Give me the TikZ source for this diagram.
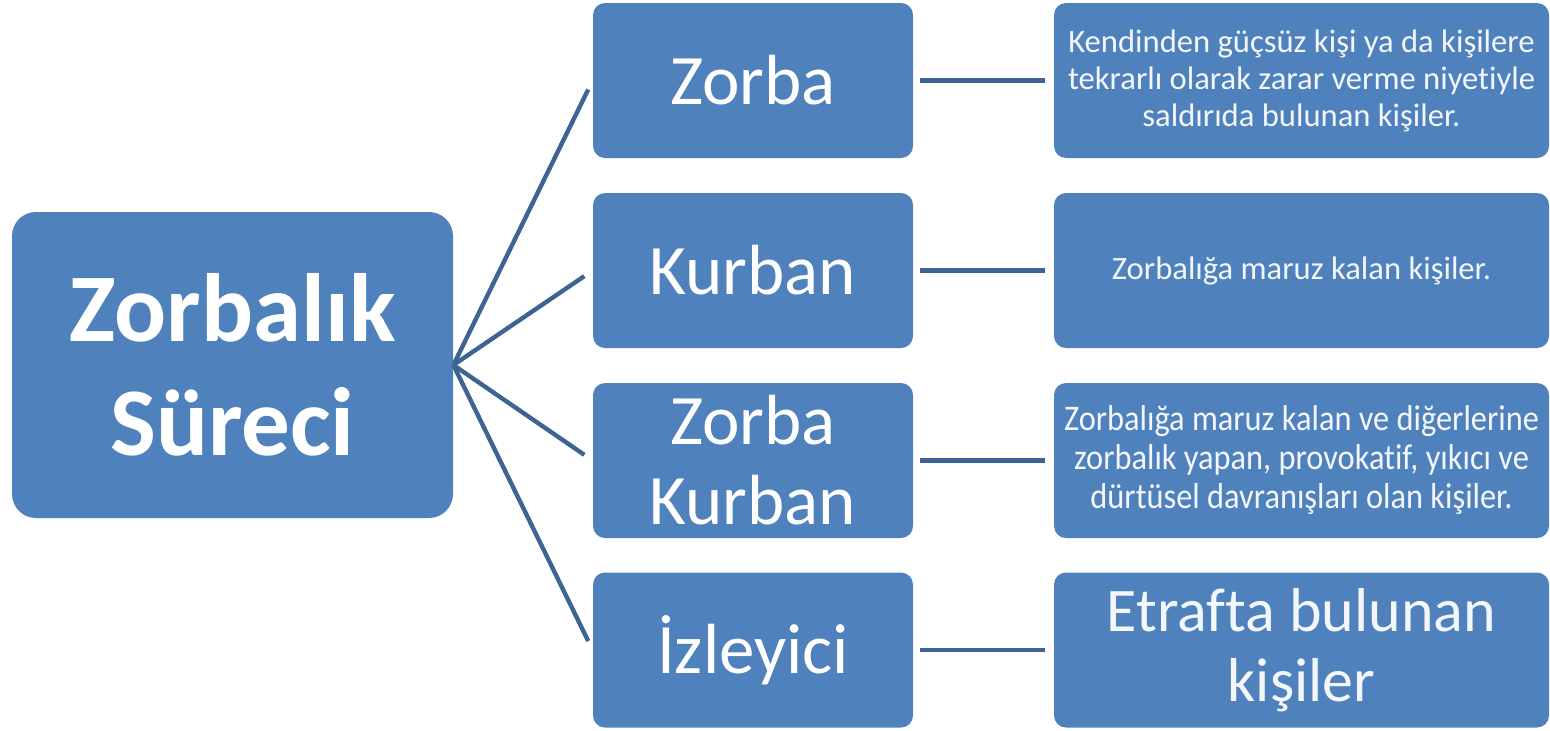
\documentclass[tikz,border=0pt]{standalone}
\usepackage{fontspec}
\setmainfont{Carlito}[Ligatures=NoCommon]
\newfontfamily\narrowfont[FakeStretch=0.9,Ligatures=NoCommon]{Carlito}
\definecolor{boxblue}{RGB}{79,129,189}
\definecolor{lineblue}{RGB}{62,100,148}
\begin{document}
\begin{tikzpicture}[x=0.5pt,y=-0.5pt,
	box/.style={fill=boxblue,text=white,rounded corners=6pt,align=center,inner sep=0pt},
	rootbox/.style={box,rounded corners=12pt,minimum width=220.5pt,minimum height=153pt,font=\fontsize{48.5}{57}\selectfont\bfseries},
	rolebox/.style={box,minimum width=160pt,minimum height=77.5pt,font=\fontsize{35.5}{40}\selectfont},
	infobox/.style={box,text=white!93!boxblue,minimum width=247.5pt,minimum height=77.5pt,font=\fontsize{16.3}{18.5}\selectfont},
	link/.style={draw=lineblue,line width=2.2pt}]

\useasboundingbox (0,0) rectangle (1550,730);

\node[rootbox] (root) at (232.5,365) {Zorbalık\\Süreci};

\node[rolebox] (zorba)   at (753,80.5)  {Zorba};
\node[rolebox] (kurban)  at (753,270.5) {Kurban};
\node[rolebox] (zk)      at (753,460.5) {Zorba\\Kurban};
\node[rolebox] (izleyici) at (753,650)  {İzleyici};

\node[infobox] (zorbainfo)  at (1301.5,80.5)  {Kendinden güçsüz kişi ya da kişilere\\tekrarlı olarak zarar verme niyetiyle\\saldırıda bulunan kişiler.};
\node[infobox] (kurbaninfo) at (1301.5,270.5) {Zorbalığa maruz kalan kişiler.};
\node[infobox,font=\fontsize{18}{19.5}\narrowfont] (zkinfo) at (1301.5,460.5) {Zorbalığa maruz kalan ve diğerlerine\\zorbalık yapan, provokatif, yıkıcı ve\\dürtüsel davranışları olan kişiler.};
\node[infobox,font=\fontsize{31}{35}\selectfont] (izleyiciinfo) at (1301.5,650) {Etrafta bulunan\\kişiler};

\path (root.east) edge[link,shorten >=5pt] (zorba.west)
	(root.east) edge[link,shorten >=5pt] (kurban.west)
	(root.east) edge[link,shorten >=5pt] (zk.west)
	(root.east) edge[link,shorten >=5pt] (izleyici.west);

\path (zorba) edge[link,shorten <=3.5pt,shorten >=4.5pt] (zorbainfo)
	(kurban) edge[link,shorten <=3.5pt,shorten >=4.5pt] (kurbaninfo)
	(zk) edge[link,shorten <=3.5pt,shorten >=4.5pt] (zkinfo)
	(izleyici) edge[link,shorten <=3.5pt,shorten >=4.5pt] (izleyiciinfo);

\end{tikzpicture}
\end{document}
